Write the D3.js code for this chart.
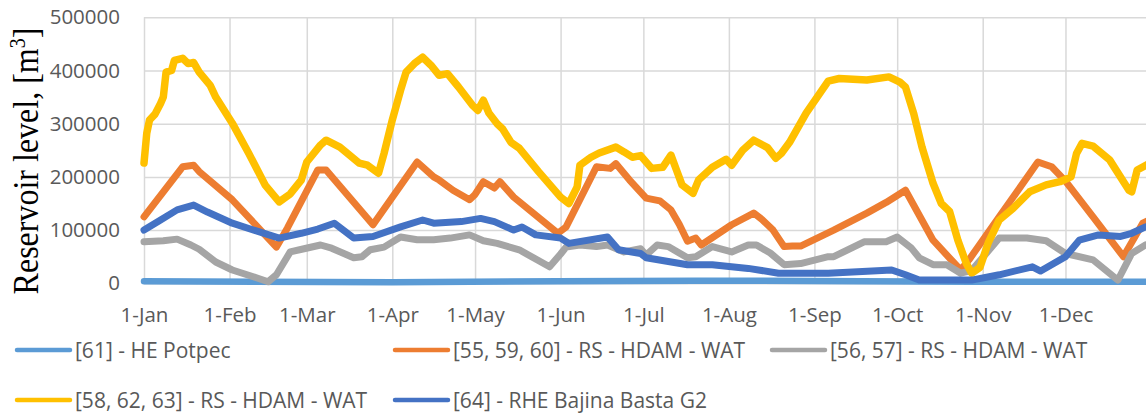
<!DOCTYPE html>
<html>
<head>
<meta charset="utf-8">
<script src="https://cdn.jsdelivr.net/npm/d3@7"></script>
<style>
  html, body { margin: 0; padding: 0; background: #fff; }
  svg { display: block; }
  .tick text { font-family: "Open Sans", sans-serif; fill: #595959; }
</style>
</head>
<body>
<svg id="chart" width="1146" height="417"></svg>
<script>
// Reservoir levels over one year, [day of year, volume in m3]
const yearStart = new Date(2019, 0, 1);
const yearEnd = new Date(2020, 0, 1);

const potpec = [[0,4000],[40,3000],[90,2000],[150,4000],[200,5000],[260,4000],[300,3000],[340,3000],[364,3000]];

const rs555960 = [[0,125000],[14,219000],[18,222000],[20,210000],[32,157000],[48,68000],[52,104000],[63,213000],[66,213000],[83,110000],[99,228000],[105,200000],[107,194000],[112,175000],[118,157000],[120,167000],[123,191000],[127,179000],[129,191000],[134,162000],[150,94000],[153,106000],[164,219000],[169,216000],[171,225000],[176,194000],[182,160000],[187,155000],[191,138000],[194,111000],[197,79000],[200,85000],[202,72000],[213,110000],[221,132000],[224,120000],[228,100000],[232,69000],[235,70000],[238,70000],[250,100000],[262,132000],[269,152000],[276,175000],[286,81000],[296,25000],[299,44000],[310,125000],[324,228000],[329,219000],[334,192000],[344,125000],[355,50000],[362,113000],[364,118000]];

const rs5657 = [[0,78000],[7,80000],[12,83000],[17,72000],[20,64000],[26,40000],[32,25000],[41,10000],[45,3000],[48,16000],[53,59000],[58,65000],[64,72000],[68,66000],[76,48000],[79,50000],[82,63000],[87,68000],[93,87000],[99,82000],[105,82000],[111,85000],[118,91000],[123,80000],[128,75000],[136,63000],[147,31000],[151,55000],[153,68000],[158,72000],[164,69000],[168,72000],[174,59000],[180,65000],[182,53000],[186,72000],[190,69000],[197,48000],[200,50000],[206,69000],[213,59000],[219,72000],[222,72000],[227,57000],[232,35000],[238,37000],[248,50000],[250,50000],[261,78000],[269,78000],[273,87000],[278,67000],[281,48000],[286,35000],[291,35000],[296,19000],[300,24000],[310,85000],[320,85000],[327,80000],[334,56000],[344,44000],[353,6000],[358,56000],[363,72000]];

const rs586263 = [[0,226000],[1,282000],[2,307000],[4,318000],[6,338000],[7,350000],[8,397000],[10,400000],[11,419000],[14,423000],[16,413000],[18,415000],[20,397000],[24,372000],[26,350000],[32,301000],[38,244000],[44,184000],[49,153000],[53,168000],[57,194000],[59,228000],[64,260000],[66,269000],[71,256000],[78,226000],[81,222000],[85,207000],[87,244000],[90,307000],[93,363000],[95,397000],[98,413000],[101,425000],[104,410000],[107,391000],[110,394000],[114,369000],[119,335000],[121,325000],[123,344000],[125,320000],[128,300000],[130,290000],[133,265000],[136,254000],[143,210000],[151,162000],[154,150000],[157,181000],[158,222000],[162,237000],[165,245000],[171,256000],[174,247000],[177,237000],[180,240000],[184,216000],[188,218000],[191,241000],[193,213000],[195,185000],[199,169000],[201,194000],[206,218000],[211,233000],[213,222000],[217,250000],[221,269000],[226,255000],[229,235000],[231,244000],[234,265000],[240,320000],[248,380000],[252,385000],[262,382000],[270,388000],[274,378000],[276,369000],[279,319000],[282,256000],[286,188000],[289,150000],[292,135000],[295,81000],[298,38000],[300,19000],[303,30000],[306,76000],[310,119000],[315,141000],[321,172000],[327,185000],[332,191000],[336,200000],[338,244000],[340,263000],[344,258000],[350,232000],[357,175000],[358,172000],[360,213000],[364,224000]];

const bajinaBasta = [[0,100000],[6,119000],[12,138000],[18,147000],[23,134000],[32,113000],[41,98000],[49,85000],[57,94000],[63,102000],[69,113000],[76,85000],[83,88000],[93,106000],[101,119000],[105,113000],[115,116000],[122,122000],[127,116000],[134,100000],[137,106000],[142,91000],[151,85000],[154,75000],[168,87000],[172,63000],[180,56000],[182,48000],[197,35000],[206,35000],[219,28000],[230,19000],[248,19000],[271,25000],[276,16000],[281,6000],[300,6000],[310,16000],[322,31000],[325,23000],[334,50000],[339,81000],[346,91000],[354,88000],[358,94000],[363,106000]];

const seriesNames = ["[61] - HE Potpec", "[55, 59, 60] - RS - HDAM - WAT", "[56, 57] - RS - HDAM - WAT", "[58, 62, 63] - RS - HDAM - WAT", "[64] - RHE Bajina Basta G2"];
const seriesColors = ["#5B9BD5", "#ED7D31", "#A5A5A5", "#FFC000", "#4472C4"];
const seriesData = [potpec, rs555960, rs5657, rs586263, bajinaBasta];

const yTicks = [0, 100000, 200000, 300000, 400000, 500000];
const monthTicks = d3.range(12).map(m => new Date(2019, m, 1));

const svg = d3.select("#chart");
const plot = { left: 144, right: 1151, top: 17.3, bottom: 283.3 };

const x = d3.scaleTime().domain([yearStart, yearEnd]).range([plot.left, plot.right]);
const y = d3.scaleLinear().domain([0, 500000]).range([plot.bottom, plot.top]);

// gridlines
const gridH = svg.append("g").attr("transform", `translate(${plot.left},0)`)
  .call(d3.axisLeft(y).tickValues(yTicks).tickSize(-(plot.right - plot.left)).tickFormat(""));
gridH.select(".domain").remove();
gridH.selectAll("line").attr("stroke", "#D9D9D9").attr("stroke-width", 1.5);

const gridV = svg.append("g").attr("transform", `translate(0,${plot.bottom})`)
  .call(d3.axisBottom(x).tickValues(monthTicks).tickSize(-(plot.bottom - plot.top)).tickFormat(""));
gridV.select(".domain").remove();
gridV.selectAll("line").attr("stroke", "#D9D9D9").attr("stroke-width", 1.5);

// axis labels
const yAxis = svg.append("g").attr("transform", `translate(${plot.left},0)`)
  .call(d3.axisLeft(y).tickValues(yTicks).tickSize(0).tickPadding(24).tickFormat(d3.format("d")));
yAxis.select(".domain").remove();
yAxis.selectAll("text").style("font-size", "20.5px");

const xAxis = svg.append("g").attr("transform", `translate(0,${plot.bottom})`)
  .call(d3.axisBottom(x).tickValues(monthTicks).tickSize(0).tickPadding(24).tickFormat(d3.timeFormat("%-d-%b")));
xAxis.select(".domain").remove();
xAxis.selectAll("text").style("font-size", "20.5px");

// y title
const title = svg.append("text")
  .attr("transform", "translate(38,161) scale(1.12,1) rotate(-90)")
  .attr("text-anchor", "middle")
  .style("font-family", "'Liberation Serif', 'Times New Roman', serif")
  .style("font-size", "32px")
  .attr("fill", "#000");
title.append("tspan").text("Reservoir level, [m");
title.append("tspan").attr("baseline-shift", "super").style("font-size", "20px").text("3");
title.append("tspan").text("]");

// series lines
const line = d3.line()
  .x(d => x(d3.timeDay.offset(yearStart, d[0])))
  .y(d => y(d[1]))
  .curve(d3.curveLinear);

const widths = [6.5, 7, 7, 7.5, 7];
svg.append("g").selectAll("path")
  .data(seriesData)
  .join("path")
  .attr("d", line)
  .attr("fill", "none")
  .attr("stroke", (d, i) => seriesColors[i])
  .attr("stroke-width", (d, i) => widths[i])
  .attr("stroke-linejoin", "round")
  .attr("stroke-linecap", "round");

// legend
const legendPos = [[15, 350], [393, 350], [770, 350], [15, 400], [393, 400]];
const legend = svg.append("g").selectAll("g")
  .data(seriesNames)
  .join("g")
  .attr("transform", (d, i) => `translate(${legendPos[i][0]},${legendPos[i][1]})`);
legend.append("line")
  .attr("x1", 2).attr("x2", 55).attr("y1", 0).attr("y2", 0)
  .attr("stroke", (d, i) => seriesColors[i])
  .attr("stroke-width", 4.5)
  .attr("stroke-linecap", "round");
legend.append("text")
  .attr("x", 60).attr("y", 7.5)
  .style("font-family", "'Open Sans', sans-serif")
  .style("font-size", "21px")
  .attr("fill", "#595959")
  .text(d => d);
</script>
</body>
</html>
